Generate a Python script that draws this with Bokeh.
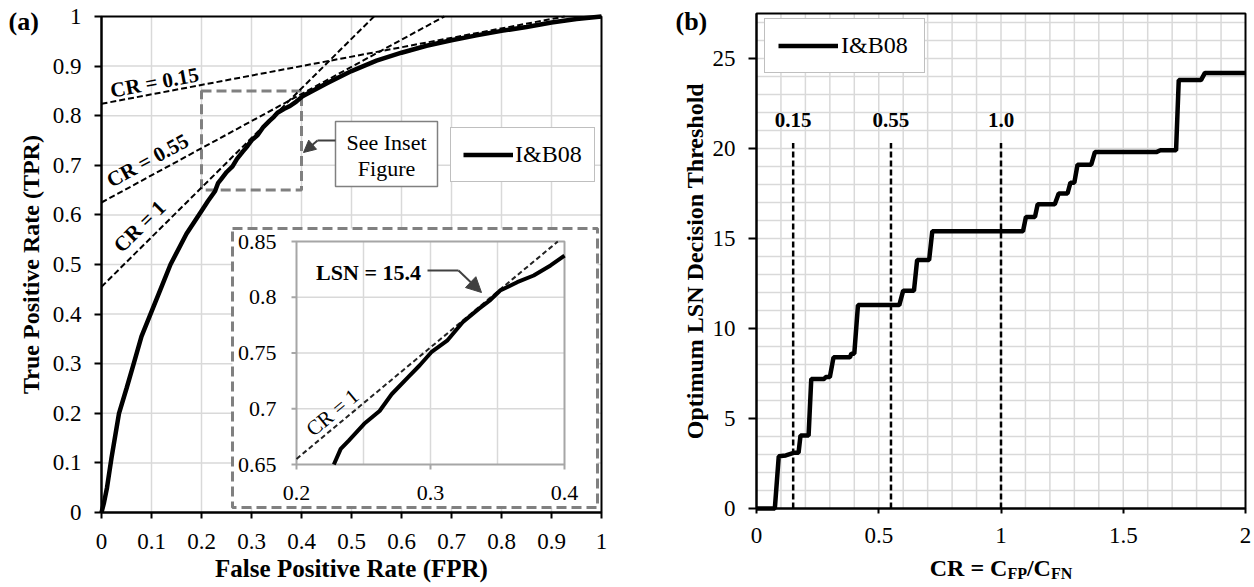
import numpy as np
from bokeh.plotting import figure
from bokeh.layouts import row
from bokeh.models import (Range1d, FixedTicker, NumeralTickFormatter, Legend, LegendItem,
                          Label, Arrow, NormalHead)
from bokeh.core.properties import value
from bokeh.embed import file_html
from bokeh.resources import INLINE

FONT = "Liberation Serif"

# ---------------- data: panel (a) ROC curve ----------------
roc_fpr = [0.0, 0.005, 0.011, 0.02, 0.035, 0.05, 0.063, 0.08, 0.098, 0.118, 0.138, 0.17,
           0.2, 0.213, 0.227, 0.233, 0.239, 0.2505, 0.262, 0.271, 0.283, 0.292, 0.3006,
           0.3124, 0.324, 0.336, 0.3448, 0.352, 0.3647, 0.377, 0.3896, 0.402, 0.45, 0.5,
           0.55, 0.6, 0.65, 0.7, 0.75, 0.8, 0.85, 0.9, 0.95, 1.0]
roc_tpr = [0.0, 0.02, 0.05, 0.11, 0.2, 0.25, 0.295, 0.355, 0.4, 0.45, 0.5, 0.562,
           0.608, 0.628, 0.6476, 0.664, 0.6715, 0.6865, 0.698, 0.713, 0.728, 0.739, 0.7507,
           0.761, 0.7776, 0.7896, 0.7977, 0.806, 0.8135, 0.8195, 0.8285, 0.839, 0.865, 0.89,
           0.911, 0.927, 0.941, 0.952, 0.962, 0.971, 0.979, 0.988, 0.995, 1.0]
series_name = "I&B08"

# iso-cost (tangent) lines: label, intercept at FPR=0, slope
cr_labels = ["CR = 0.15", "CR = 0.55", "CR = 1"]
cr_intercepts = [0.824, 0.625, 0.455]
cr_slopes = [0.19, 0.547, 1.0]

a_ticks = [0.0, 0.1, 0.2, 0.3, 0.4, 0.5, 0.6, 0.7, 0.8, 0.9, 1.0]
a_range = [0.0, 1.0]

# inset window
inset_x = [0.2, 0.4]
inset_y = [0.65, 0.85]
inset_xticks = [0.2, 0.3, 0.4]
inset_yticks = [0.65, 0.7, 0.75, 0.8, 0.85]
inset_xgrid = [0.25, 0.3, 0.35]
inset_ygrid = [0.7, 0.75, 0.8]
inset_cr_index = 2          # the CR = 1 line shown in the inset
lsn_text = "LSN = 15.4"

# ---------------- data: panel (b) optimum threshold ----------------
cr_b = [0, 0.075, 0.091, 0.12, 0.155, 0.172, 0.18, 0.213, 0.224, 0.277,
        0.283, 0.30, 0.315, 0.382, 0.388, 0.40, 0.415, 0.584, 0.60, 0.644,
        0.657, 0.706, 0.719, 1.09, 1.102, 1.139, 1.15, 1.22, 1.236, 1.272,
        1.284, 1.30, 1.313, 1.369, 1.384, 1.635, 1.652, 1.716, 1.727, 1.818,
        1.834, 2.0]
lsn_b = [0, 0, 2.9, 2.95, 3.1, 3.1, 4.05, 4.05, 7.2, 7.2,
         7.3, 7.3, 8.4, 8.4, 8.6, 8.6, 11.3, 11.3, 12.1, 12.1,
         13.8, 13.8, 15.4, 15.4, 16.2, 16.2, 16.9, 16.9, 17.5, 17.5,
         18.1, 18.1, 19.1, 19.1, 19.8, 19.8, 19.9, 19.9, 23.8, 23.8,
         24.2, 24.2]
cr_marks = [0.15, 0.55, 1.0]
cr_mark_labels = ["0.15", "0.55", "1.0"]
cr_mark_top = 20.3
cr_mark_label_y = 21.6
b_xrange = [0, 2]
b_yrange = [0, 27.5]
b_xticks = [0, 0.5, 1, 1.5, 2]
b_xminor = [i / 10 for i in range(21)]
b_yticks = [0, 5, 10, 15, 20, 25]
b_yminor = list(range(28))

# ---------------- layout (page pixels) ----------------
H = 587
WA = 627
WB = 627
A_L, A_R, A_T, A_B = 101, 601, 16, 512
B_L, B_R, B_T, B_B = 756, 1245, 13, 508
INS_L, INS_R, INS_T, INS_B = 296, 564, 241, 464
GRID = "#d9d9d9"
GRAY = "#808080"
DARK = "#404040"


def ax(px):
    return a_range[0] + (px - A_L) / (A_R - A_L) * (a_range[1] - a_range[0])


def ay(py):
    return a_range[0] + (A_B - py) / (A_B - A_T) * (a_range[1] - a_range[0])


def bx(px):
    return b_xrange[0] + (px - B_L) / (B_R - B_L) * (b_xrange[1] - b_xrange[0])


def by(py):
    return b_yrange[0] + (B_B - py) / (B_B - B_T) * (b_yrange[1] - b_yrange[0])


ixpp = (inset_x[1] - inset_x[0]) / (INS_R - INS_L)
iypp = (inset_y[1] - inset_y[0]) / (INS_B - INS_T)


def ix(px):
    return inset_x[0] + (px - INS_L) * ixpp


def iy(py):
    return inset_y[0] + (INS_B - py) * iypp


def style_axes(p):
    for a in p.axis:
        a.axis_line_width = 2
        a.axis_line_color = "black"
        a.major_tick_line_width = 2
        a.major_tick_line_color = "black"
        a.major_tick_in = 0
        a.minor_tick_line_color = None
        a.major_label_text_font = FONT
        a.major_label_text_font_size = "23px"
        a.major_label_text_color = "black"
    p.grid.visible = False
    p.outline_line_color = None
    p.background_fill_color = "white"
    p.border_fill_color = "white"


def lab(p, x, y, text, size, bold=False, align="center", baseline="middle", angle=0.0,
        color="black"):
    p.add_layout(Label(x=x, y=y, text=text, angle=angle, text_align=align,
                       text_baseline=baseline, text_font=FONT, text_font_size=f"{size}px",
                       text_font_style="bold" if bold else "normal", text_color=color))


# ======================= panel (a) =======================
pa = figure(width=WA, height=H, x_range=Range1d(ax(0), ax(WA)), y_range=Range1d(ay(H), ay(0)),
            output_backend="svg", toolbar_location=None, min_border=0,
            min_border_left=0, min_border_right=0, min_border_top=0, min_border_bottom=0)
pa.extra_x_ranges = {"inset": Range1d(ix(0), ix(WA))}
pa.extra_y_ranges = {"inset": Range1d(iy(H), iy(0))}
ta = FixedTicker(ticks=a_ticks)
pa.xaxis.ticker = ta
pa.yaxis.ticker = ta
pa.xaxis.formatter = NumeralTickFormatter(format="0.[0]")
pa.yaxis.formatter = NumeralTickFormatter(format="0.[0]")
pa.xaxis.fixed_location = a_range[0]
pa.yaxis.fixed_location = a_range[0]
pa.xaxis.bounds = tuple(a_range)
pa.yaxis.bounds = tuple(a_range)
style_axes(pa)
pa.xaxis.major_tick_out = 6
pa.xaxis.major_label_standoff = 15
pa.yaxis.major_tick_out = 7
pa.yaxis.major_label_standoff = 13

# grid
gl = a_ticks[1:-1]
pa.segment(x0=gl, y0=[a_range[0]] * len(gl), x1=gl, y1=[a_range[1]] * len(gl),
           line_color=GRID, line_width=1.5)
pa.segment(x0=[a_range[0]] * len(gl), y0=gl, x1=[a_range[1]] * len(gl), y1=gl,
           line_color=GRID, line_width=1.5)

IN = dict(x_range_name="inset", y_range_name="inset")

# inset background box (dashed gray, white fill)
pa.quad(left=ax(232), right=ax(597), top=ay(228), bottom=ay(507),
        fill_color="white", line_color=GRAY, line_width=3, line_dash="10 5")
# inset grid
pa.segment(x0=inset_xgrid, y0=[inset_y[0]] * 3, x1=inset_xgrid, y1=[inset_y[1]] * 3,
           line_color=GRID, line_width=1.5, **IN)
pa.segment(x0=[inset_x[0]] * 3, y0=inset_ygrid, x1=[inset_x[1]] * 3, y1=inset_ygrid,
           line_color=GRID, line_width=1.5, **IN)
# inset frame
pa.quad(left=inset_x[0], right=inset_x[1], bottom=inset_y[0], top=inset_y[1],
        fill_alpha=0, line_color="#a6a6a6", line_width=2, **IN)
# inset ticks
tk = 5
pa.segment(x0=[inset_x[0]] * len(inset_yticks), y0=inset_yticks,
           x1=[inset_x[0] - tk * ixpp] * len(inset_yticks), y1=inset_yticks,
           line_color="#a6a6a6", line_width=2, **IN)
pa.segment(x0=inset_xticks, y0=[inset_y[0]] * len(inset_xticks),
           x1=inset_xticks, y1=[inset_y[0] - tk * iypp] * len(inset_xticks),
           line_color="#a6a6a6", line_width=2, **IN)
# inset tick labels
pa.text(x=[inset_x[0]] * len(inset_yticks), y=inset_yticks,
        text=[f"{v:g}" for v in inset_yticks], x_offset=-20,
        text_align="right", text_baseline="middle", text_font=value(FONT),
        text_font_size=value("22px"), text_color="black", **IN)
pa.text(x=inset_xticks, y=[inset_y[0]] * len(inset_xticks),
        text=[f"{v:g}" for v in inset_xticks], y_offset=28,
        text_align="center", text_baseline="middle", text_font=value(FONT),
        text_font_size=value("22px"), text_color="black", **IN)
# inset CR = 1 line clipped to inset window
b0, s0 = cr_intercepts[inset_cr_index], cr_slopes[inset_cr_index]
lx0 = max(inset_x[0], (inset_y[0] - b0) / s0)
lx1 = min(inset_x[1], (inset_y[1] - b0) / s0)
pa.line(x=[lx0, lx1], y=[b0 + s0 * lx0, b0 + s0 * lx1], line_color="#222222",
        line_width=2, line_dash="5 3", **IN)
# inset ROC clipped to inset window
fpr = np.array(roc_fpr)
tpr = np.array(roc_tpr)
x_in = float(np.interp(inset_y[0], tpr, fpr))
y_out = float(np.interp(inset_x[1], fpr, tpr))
mask = (fpr > x_in) & (fpr < inset_x[1]) & (tpr > inset_y[0]) & (tpr < inset_y[1])
ins_x = [x_in] + list(fpr[mask]) + [inset_x[1]]
ins_y = [inset_y[0]] + list(tpr[mask]) + [y_out]
pa.line(x=ins_x, y=ins_y, line_color="black", line_width=4, **IN)

# dashed marker of the zoomed region on the main curve
pa.quad(left=inset_x[0], right=inset_x[1], bottom=inset_y[0], top=inset_y[1],
        fill_alpha=0, line_color=GRAY, line_width=3, line_dash="10 5")

# iso-cost lines
xs, ys = [], []
for b, s in zip(cr_intercepts, cr_slopes):
    xe = min(a_range[1], (a_range[1] - b) / s)
    xs.append([a_range[0], xe])
    ys.append([b, b + s * xe])
pa.multi_line(xs=xs, ys=ys, line_color="black", line_width=2, line_dash="6 3")

# ROC curve
r_roc = pa.line(x=roc_fpr, y=roc_tpr, line_color="black", line_width=4.5)

# plot border (top / right)
pa.quad(left=a_range[0], right=a_range[1], bottom=a_range[0], top=a_range[1],
        fill_alpha=0, line_color="black", line_width=2)

# CR labels (page positions)
cr_label_pos = [(154, 82), (147, 160), (139, 226)]
pix_ratio = (A_B - A_T) / (A_R - A_L)
for t, s, (px, py) in zip(cr_labels, cr_slopes, cr_label_pos):
    lab(pa, ax(px), ay(py), t, 21, bold=True, angle=float(np.arctan(s * pix_ratio)))

# "See Inset Figure" box
pa.quad(left=ax(335), right=ax(437), top=ay(121), bottom=ay(186), fill_color="white",
        line_color=GRAY, line_width=1.5)
lab(pa, ax(386), ay(142), "See Inset", 22)
lab(pa, ax(386), ay(168), "Figure", 22)
pa.add_layout(Arrow(end=None, x_start=ax(335), y_start=ay(140), x_end=ax(317), y_end=ay(140),
                    line_color=DARK, line_width=2))
pa.add_layout(Arrow(end=NormalHead(size=12, fill_color=DARK, line_color=DARK),
                    x_start=ax(317), y_start=ay(140), x_end=ax(303), y_end=ay(152),
                    line_color=DARK, line_width=2))

# inset annotations
lab(pa, ax(332), ay(412), cr_labels[inset_cr_index], 21,
    angle=float(np.arctan(s0 * ixpp / iypp)))
lab(pa, ax(368), ay(272), lsn_text, 22, bold=True)
pa.add_layout(Arrow(end=None, x_start=ax(427), y_start=ay(270), x_end=ax(458), y_end=ay(270),
                    line_color=DARK, line_width=2))
pa.add_layout(Arrow(end=NormalHead(size=15, fill_color=DARK, line_color=DARK),
                    x_start=ax(458), y_start=ay(270), x_end=ax(481), y_end=ay(292),
                    line_color=DARK, line_width=2))

# panel tag and axis titles
lab(pa, ax(8), ay(21), "(a)", 26, bold=True, align="left")
lab(pa, ax((A_L + A_R) / 2), ay(568), "False Positive Rate (FPR)", 25, bold=True)
lab(pa, ax(30), ay((A_T + A_B) / 2), "True Positive Rate (TPR)", 24, bold=True,
    angle=float(np.pi / 2))

leg_a = Legend(items=[LegendItem(label=series_name, renderers=[r_roc])],
               location=(450, H - 182), margin=0, padding=12, spacing=0,
               glyph_width=50, glyph_height=29, label_height=29, label_width=60,
               label_standoff=2, label_text_font=FONT, label_text_font_size="24px",
               label_text_color="black", border_line_color=GRAY, border_line_width=1.5,
               background_fill_color="white", background_fill_alpha=1)
pa.add_layout(leg_a)

# ======================= panel (b) =======================
OX = WA  # page x offset of panel (b)
pb = figure(width=WB, height=H, x_range=Range1d(bx(OX), bx(OX + WB)),
            y_range=Range1d(by(H), by(0)),
            output_backend="svg", toolbar_location=None, min_border=0,
            min_border_left=0, min_border_right=0, min_border_top=0, min_border_bottom=0)
pb.xaxis.ticker = FixedTicker(ticks=b_xticks)
pb.yaxis.ticker = FixedTicker(ticks=b_yticks)
pb.xaxis.formatter = NumeralTickFormatter(format="0.[0]")
pb.xaxis.fixed_location = b_yrange[0]
pb.yaxis.fixed_location = b_xrange[0]
pb.xaxis.bounds = tuple(b_xrange)
pb.yaxis.bounds = tuple(b_yrange)
style_axes(pb)
pb.xaxis.major_tick_out = 5
pb.xaxis.major_label_standoff = 14
pb.yaxis.major_tick_out = 8
pb.yaxis.major_label_standoff = 13

gx = b_xminor[1:-1]
gy = b_yminor[1:]
pb.segment(x0=gx, y0=[b_yrange[0]] * len(gx), x1=gx, y1=[b_yrange[1]] * len(gx),
           line_color=GRID, line_width=1.5)
pb.segment(x0=[b_xrange[0]] * len(gy), y0=gy, x1=[b_xrange[1]] * len(gy), y1=gy,
           line_color=GRID, line_width=1.5)

pb.segment(x0=cr_marks, y0=[0] * len(cr_marks), x1=cr_marks, y1=[cr_mark_top] * len(cr_marks),
           line_color="black", line_width=2.5, line_dash="6 3")
pb.text(x=cr_marks, y=[cr_mark_label_y] * len(cr_marks), text=cr_mark_labels,
        text_align="center", text_baseline="middle", text_font=value(FONT),
        text_font_size=value("21px"), text_font_style="bold", text_color="black")
r_b = pb.line(x=cr_b, y=lsn_b, line_color="black", line_width=4.5)

pb.quad(left=b_xrange[0], right=b_xrange[1], bottom=b_yrange[0], top=b_yrange[1],
        fill_alpha=0, line_color="black", line_width=2)

lab(pb, bx(675), by(21), "(b)", 26, bold=True, align="left")
lab(pb, bx(694), by((B_T + B_B) / 2), "Optimum LSN Decision Threshold", 24, bold=True,
    angle=float(np.pi / 2))
# x title with subscripts: CR = C_FP / C_FN
pieces = [("CR = C", 24, 3.236, 0), ("FP", 16, 1.222, 6), ("/C", 24, 1.0, 0), ("FN", 16, 1.333, 6)]
total = sum(sz * em for _, sz, em, _ in pieces)
cx = (B_L + B_R) / 2 - total / 2
for t, sz, em, dy in pieces:
    lab(pb, bx(cx), by(567 + dy), t, sz, bold=True, align="left")
    cx += sz * em

leg_b = Legend(items=[LegendItem(label=series_name, renderers=[r_b])],
               location=(764 - OX, H - 73), margin=0, padding=13, spacing=0,
               glyph_width=60, glyph_height=25, label_height=25, label_width=70,
               label_standoff=3, label_text_font=FONT, label_text_font_size="24px",
               label_text_color="black", border_line_color=GRAY, border_line_width=1.5,
               background_fill_color="white", background_fill_alpha=1)
pb.add_layout(leg_b)

layout = row(pa, pb, spacing=0)
open("out.html", "w").write(file_html(layout, INLINE))
